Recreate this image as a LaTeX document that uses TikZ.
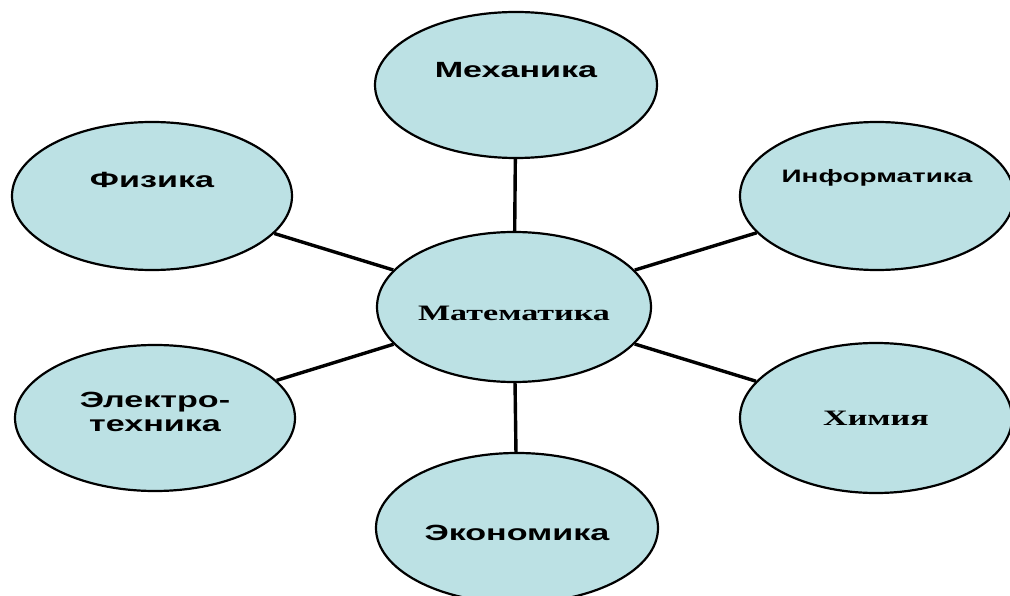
\documentclass[tikz,border=0pt]{standalone}
\usepackage{fontspec}
\setmainfont{Liberation Serif}
\newfontfamily\sanswide[FakeStretch=1.55]{Liberation Sans}
\newfontfamily\serifwide[FakeStretch=1.55]{Liberation Serif}
\usetikzlibrary{shapes.geometric}
\definecolor{bubblefill}{RGB}{188,225,228}

\tikzset{
  bubble/.style={ellipse, draw=black, line width=2.2pt, fill=bubblefill, inner sep=0pt},
  subj/.style={font=\sanswide\bfseries\fontsize{22pt}{24pt}\selectfont, align=center},
  core/.style={font=\serifwide\bfseries\fontsize{22pt}{24pt}\selectfont},
  link/.style={line width=3.4pt}
}

\begin{document}
\begin{tikzpicture}[x=1pt,y=-1pt]
\useasboundingbox (0,0) rectangle (1010,596);

\node[bubble, minimum width=274pt, minimum height=150pt,
  label={[core, yshift=-6pt]center:Математика}] (math) at (514,307) {};
\node[bubble, minimum width=282pt, minimum height=146pt,
  label={[subj, yshift=15pt]center:Механика}] (mech) at (516,85) {};
\node[bubble, minimum width=280pt, minimum height=148pt,
  label={[subj, yshift=16pt]center:Физика}] (phys) at (152,196) {};
\node[bubble, minimum width=274pt, minimum height=148pt,
  label={[subj, yshift=18pt, font=\sanswide\bfseries\fontsize{18pt}{20pt}\selectfont]center:Информатика}] (info) at (877,196) {};
\node[bubble, minimum width=272pt, minimum height=150pt,
  label={[core]center:Химия}] (chem) at (876,418) {};
\node[bubble, minimum width=280pt, minimum height=146pt,
  label={[subj, yshift=6pt]center:Электро-\\техника}] (elec) at (155,418) {};
\node[bubble, minimum width=282pt, minimum height=150pt,
  label={[subj, yshift=-5pt]center:Экономика}] (econ) at (517,528) {};

\draw[link] (math)--(mech);
\draw[link] (math)--(phys);
\draw[link] (math)--(info);
\draw[link] (math)--(chem);
\draw[link] (math)--(elec);
\draw[link] (math)--(econ);
\end{tikzpicture}
\end{document}
